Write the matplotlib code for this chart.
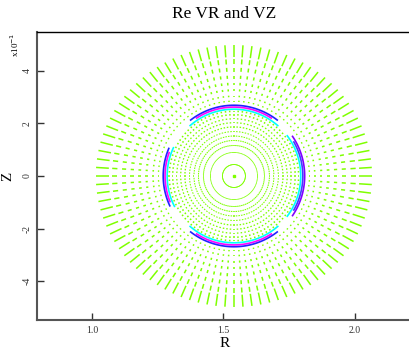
import numpy as np
import matplotlib.pyplot as plt
from matplotlib.collections import LineCollection

plt.rcParams['font.family'] = ['Liberation Serif', 'DejaVu Serif']

# mesh / field data (R, Z in metres)
R0 = 1.54
n_theta = 96
node_radii = [0.042, 0.088, 0.114, 0.133, 0.150, 0.167, 0.184, 0.200, 0.215, 0.230,
              0.243, 0.282, 0.300, 0.322, 0.345, 0.370, 0.397, 0.425, 0.452]
vec_len = [0.003, 0.003, 0.004, 0.004, 0.004, 0.004, 0.005, 0.005, 0.005, 0.006,
           0.006, 0.005, 0.006, 0.008, 0.010, 0.012, 0.015, 0.019, 0.046]
r_stretch = [1.0, 1.0, 1.0, 1.0, 1.0, 1.0, 1.0, 1.0, 1.0, 1.0,
             1.0, 1.01, 1.015, 1.02, 1.025, 1.03, 1.035, 1.045, 1.055]

# colored crescents near the resonant surface
arc_center = [0, 90, 181, 270]     # deg
arc_half = [37, 41, 26, 41]        # deg
layer_r = [0.254, 0.262, 0.269]
layer_span = [1.0, 0.8, 0.92]
layer_color = [['#00ffff', '#4040ff', '#7f00ff'],
               ['#00ffff', '#ff00ff', '#2020ff'],
               ['#00ffff', '#ff00ff', '#2020ff'],
               ['#00ffff', '#ff00ff', '#2020ff']]

green = '#7fff00'

fig = plt.figure(figsize=(4.10, 3.49), dpi=100)
ax = fig.add_axes([37 / 410, 29 / 349, 376 / 410, 288 / 349])

theta = np.linspace(0, 2 * np.pi, n_theta, endpoint=False)
segs = []
for r, L, k in zip(node_radii, vec_len, r_stretch):
    for t in theta:
        c, s = np.cos(t), np.sin(t)
        segs.append([(R0 + k * r * c, r * s), (R0 + k * (r + L) * c, (r + L) * s)])
ax.add_collection(LineCollection(segs, colors=green, linewidths=1.1, capstyle='butt'))
ax.plot([R0], [0], 's', color=green, ms=1.5)

for k, (ac, ah) in enumerate(zip(arc_center, arc_half)):
    for r, sp, col in zip(layer_r, layer_span, layer_color[k]):
        t = np.radians(np.linspace(ac - ah * sp, ac + ah * sp, 60))
        ax.plot(R0 + r * np.cos(t), r * np.sin(t), color=col, lw=1.2)

ax.set_xlim(0.791, 2.221)
ax.set_ylim(-0.5475, 0.5475)

ax.set_xticks([1.0, 1.5, 2.0])
ax.set_xticklabels(['1.0', '1.5', '2.0'])
yt = [-0.4, -0.2, 0.0, 0.2, 0.4]
ax.set_yticks(yt)
ax.set_yticklabels(['-4', '-2', '0', '2', '4'], rotation=90, va='center')
ax.tick_params(direction='in', length=5, width=1, labelsize=7, pad=4, colors='#333333')
for sp in ['left', 'bottom']:
    ax.spines[sp].set_color('#555555')
    ax.spines[sp].set_linewidth(1.5)
ax.spines['top'].set_color('black')
ax.spines['top'].set_linewidth(1.0)
ax.spines['right'].set_visible(False)

ax.set_xlabel('R', fontsize=11, labelpad=2)
ax.set_ylabel('Z', fontsize=11, labelpad=6)
fig.text(224 / 410, 1 - 14 / 349, 'Re VR and VZ', ha='center', va='center', fontsize=12.5)
fig.text(15 / 410, 1 - 45 / 349, 'x10$^{-1}$', rotation=90, ha='center', va='center', fontsize=6.5)

fig.savefig('out.png', dpi=100)
